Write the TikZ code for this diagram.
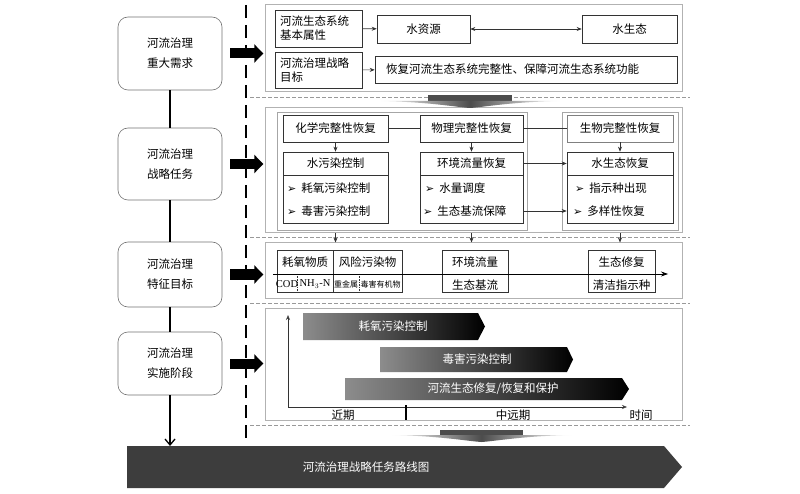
\documentclass[tikz,border=0pt]{standalone}
\usepackage{fontspec}
\setmainfont{Noto Sans CJK SC}
\newfontfamily\latfont{Liberation Serif}
\newfontfamily\symfont{DejaVu Sans}
\usetikzlibrary{arrows.meta, positioning, calc}
\newcommand{\bul}{{\symfont\fontsize{11}{11}\selectfont ➢}\hspace{5pt}}

\tikzset{
  stage/.style={draw=black!55, line width=0.6pt, rounded corners=10pt, minimum width=104pt, align=center, font=\fontsize{11.5}{20}\selectfont},
  panel/.style={draw=black!30, line width=1pt, minimum width=417pt},
  holder/.style={draw=black!35, line width=0.7pt},
  cell/.style={draw=black!80, line width=0.6pt, inner sep=0pt, font=\fontsize{11.5}{14}\selectfont},
  item/.style={anchor=west, inner sep=0pt, font=\fontsize{11.5}{14}\selectfont},
  small/.style={inner sep=0pt, font=\fontsize{8}{9}\selectfont},
  latin/.style={inner sep=0pt, font=\latfont\fontsize{10.5}{11}\selectfont},
  bartext/.style={inner sep=0pt, text=white, font=\fontsize{11.5}{14}\selectfont},
  tip/.style={-{Stealth[length=5pt, width=4pt]}, black!80, line width=0.6pt},
  fatarrow/.style={line width=10pt, -{Triangle[length=9pt, width=18pt]}},
  sep/.style={draw=black!40, dash pattern=on 4pt off 2pt, line width=0.8pt},
}

\begin{document}
\begin{tikzpicture}[x=1pt, y=-1pt]
  \useasboundingbox (0,0) rectangle (800,494);
  \fill[white] (0,0) rectangle (800,494);

  % stages on the left
  \node[stage, minimum height=73pt] (l1) at (170,53.5) {河流治理\\重大需求};
  \node[stage, minimum height=72pt] (l2) at (170,164) {河流治理\\战略任务};
  \node[stage, minimum height=65pt] (l3) at (170,274.5) {河流治理\\特征目标};
  \node[stage, minimum height=63pt] (l4) at (170,363.5) {河流治理\\实施阶段};
  \coordinate (roadtop) at (170,446);
  \draw[line width=1.3pt] (l1) -- (l2);
  \draw[line width=1.3pt] (l2) -- (l3);
  \draw[line width=1.3pt] (l3) -- (l4);
  \draw[line width=1.3pt, -{Straight Barb[length=6pt, width=10pt]}] (l4) -- (roadtop);

  \draw[line width=2.2pt, dash pattern=on 13pt off 7pt] (246,5) -- (246,441);
  \foreach \s in {l1,l2,l3,l4}
    \draw[fatarrow] ([xshift=8pt]\s.east) -- ++(33,0);

  % panels
  \node[panel, minimum height=87pt] (p1) at (473.5,48.5) {};
  \node[panel, minimum height=125pt] (p2) at (473.5,170.5) {};
  \node[panel, minimum height=55pt] (p3) at (473.5,270.5) {};
  \node[panel, minimum height=112pt] (p4) at (473.5,364) {};
  \draw[sep] (250,97) -- (690,97);
  \draw[sep] (250,237) -- (690,237);
  \draw[sep] (250,303) -- (690,303);
  \draw[sep] (250,425) -- (690,425);

  % panel 1
  \node[cell, minimum width=87pt, minimum height=37pt, text width=77pt, inner xsep=5pt, align=left] (attr) at (318.5,28.5) {河流生态系统\\基本属性};
  \node[cell, minimum width=93pt, minimum height=28pt] (water) at (423.5,29) {水资源};
  \node[cell, minimum width=95pt, minimum height=28pt] (eco) at (629.5,29) {水生态};
  \node[cell, minimum width=87pt, minimum height=36pt, text width=77pt, inner xsep=5pt, align=left] (aim) at (318.5,70) {河流治理战略\\目标};
  \node[cell, minimum height=27pt, text width=280pt, inner xsep=11pt, align=left] (goal) at (526,69.5) {恢复河流生态系统完整性、保障河流生态系统功能};
  \draw[tip] (attr) -- (water);
  \draw[tip, {Stealth[length=5pt, width=4pt]}-{Stealth[length=5pt, width=4pt]}] (water) -- (eco);
  \draw[tip] (aim) -- (goal);

  \fill[black!70] (428,95) rectangle (512,101.5);
  \shade[left color=white, right color=white, middle color=black!70] (380,101) .. controls (430,102) and (455,107) .. (470,108) .. controls (485,107) and (510,102) .. (560,101) -- cycle;

  % panel 2
  \node[holder, minimum width=250pt, minimum height=118pt] (hold1) at (402,171) {};
  \node[holder, minimum width=116pt, minimum height=118pt] (hold2) at (620,171) {};
  \node[cell, minimum width=105pt, minimum height=27pt] (chem) at (335.5,128.5) {化学完整性恢复};
  \node[cell, minimum width=103pt, minimum height=27pt] (phys) at (471.5,128.5) {物理完整性恢复};
  \node[cell, draw=black!50, minimum width=106pt, minimum height=27pt] (bio) at (620,128.5) {生物完整性恢复};
  \node[cell, minimum width=105pt, minimum height=23pt] (wpc) at (335.5,163.5) {水污染控制};
  \node[cell, minimum width=103pt, minimum height=23pt] (efr) at (471.5,163.5) {环境流量恢复};
  \node[cell, minimum width=106pt, minimum height=23pt] (wer) at (620,163.5) {水生态恢复};
  \node[cell, minimum width=105pt, minimum height=48pt, anchor=north] (wpcbody) at (wpc.south) {};
  \node[cell, minimum width=103pt, minimum height=48pt, anchor=north] (efrbody) at (efr.south) {};
  \node[cell, minimum width=106pt, minimum height=48pt, anchor=north] (werbody) at (wer.south) {};
  \node[item] (o1) at (287,188) {\bul 耗氧污染控制};
  \node[item] (o2) at (287,211) {\bul 毒害污染控制};
  \node[item] (f1) at (425,188) {\bul 水量调度};
  \node[item] (f2) at (423,211) {\bul 生态基流保障};
  \node[item] (b1) at (575,188) {\bul 指示种出现};
  \node[item] (b2) at (573,211) {\bul 多样性恢复};
  \draw[black!80, line width=0.6pt] (chem) -- (phys);
  \draw[black!80, line width=0.6pt] (phys) -- (bio);
  \draw[tip] (chem) -- (wpc);
  \draw[tip] (phys) -- (efr);
  \draw[tip] (bio) -- (wer);
  \draw[tip] (efr) -- (wer);
  \draw[tip] (efrbody.east |- f2) -- (werbody.west |- f2);
  \foreach \s in {wpc,efr,wer}
    \draw[tip] (\s.south |- p2.south) -- (\s.south |- p3.north);

  % panel 3
  \coordinate (tl0) at (273,274);
  \coordinate (tl1) at (668,274);
  \node[cell, minimum width=56pt, minimum height=42pt] (oxy) at (305,271) {};
  \node[cell, minimum width=69pt, minimum height=42pt] (risk) at (367.5,271) {};
  \node[cell, minimum width=66pt, minimum height=42pt] (flow) at (475,271) {};
  \node[cell, minimum width=67pt, minimum height=42pt] (rest) at (621.5,271) {};
  \draw[black!80, line width=0.6pt, dash pattern=on 1.5pt off 1pt] (297,274) -- (297,292);
  \draw[black!80, line width=0.6pt, dash pattern=on 1.5pt off 1pt] (359,274) -- (359,292);
  \draw[-{Stealth[length=7pt, width=5pt]}, line width=0.7pt] (tl0) -- (tl1);
  \node[cell, draw=none] (oxyt) at (305,262) {耗氧物质};
  \node[cell, draw=none] (riskt) at (367.5,262) {风险污染物};
  \node[latin] (cod) at (287,284) {COD};
  \node[latin] (nh) at (315,284) {NH$_3$-N};
  \node[small] (hm) at (346,284) {重金属};
  \node[small] (org) at (380.5,284) {毒害有机物};
  \node[cell, draw=none] (flowt) at (475,262) {环境流量};
  \node[cell, draw=none] (flowb) at (475,285) {生态基流};
  \node[cell, draw=none] (restt) at (621.5,262) {生态修复};
  \node[cell, draw=none] (restb) at (621.5,285) {清洁指示种};

  % panel 4
  \coordinate (ax0) at (288,407);
  \coordinate (axy) at (288,315);
  \coordinate (axx) at (627,407);
  \draw[-{Stealth[length=5pt, width=4pt, open]}, black!80, line width=0.6pt] (ax0) -- (axy);
  \draw[-{Stealth[length=5pt, width=4pt, open]}, black!80, line width=0.6pt] (ax0) -- (axx);
  \draw[line width=1.5pt] (406,405) -- (406,420);
  \node[cell, draw=none] (near) at (343,415) {近期};
  \node[cell, draw=none] (far) at (513,415) {中远期};
  \node[cell, draw=none] (time) at (641,415) {时间};
  \shade[left color=black!45, right color=black] (303,313) -- (478,313) -- (485,326.5) -- (478,340) -- (303,340) -- cycle;
  \shade[left color=black!45, right color=black] (380,347) -- (567,347) -- (573,359.5) -- (567,372) -- (380,372) -- cycle;
  \shade[left color=black!45, right color=black] (345,378) -- (622,378) -- (629,389) -- (622,400) -- (345,400) -- cycle;
  \node[bartext] (g1) at (393,326.5) {耗氧污染控制};
  \node[bartext] (g2) at (477,359.5) {毒害污染控制};
  \node[bartext] (g3) at (493,389) {河流生态修复/恢复和保护};

  \fill[black!70] (440,430) rectangle (523,435.5);
  \shade[left color=white, right color=white, middle color=black!70] (391,435) .. controls (441,436) and (466,441) .. (481.5,442) .. controls (497,441) and (522,436) .. (572,435) -- cycle;

  % road map band
  \fill[black!76] (127,446) -- (664,446) -- (682,467) -- (664,488) -- (127,488) -- cycle;
  \node[bartext] (road) at (366,467) {河流治理战略任务路线图};
\end{tikzpicture}
\end{document}
